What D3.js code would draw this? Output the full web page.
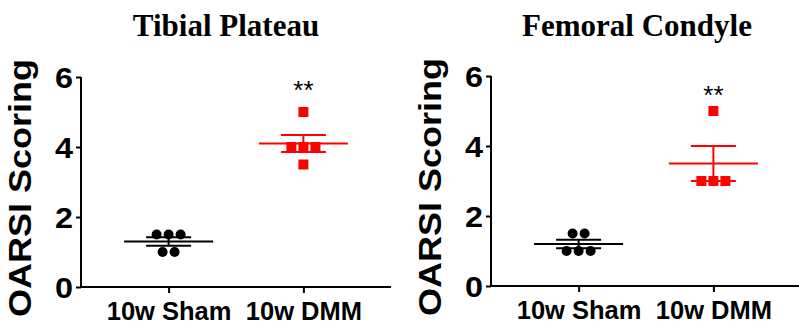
<!DOCTYPE html>
<html>
<head>
<meta charset="utf-8">
<script src="https://cdn.jsdelivr.net/npm/d3@7"></script>
<style>
  body { margin: 0; background: #fff; }
  svg { display: block; }
</style>
</head>
<body>
<div id="chart"></div>
<script>
(function () {

    // Veriler
    const categories = ["10w Sham", "10w DMM"];
    const yTicks = [0, 2, 4, 6];

    const tibialSham = [1.5, 1.5, 1.5, 1, 1];
    const tibialDMM = [5, 4, 4, 4, 3.5];
    const femoralSham = [1.5, 1.5, 1, 1, 1];
    const femoralDMM = [5, 3, 3, 3];

    const panelTitles = ["Tibial Plateau", "Femoral Condyle"];
    const sigLabels = ["**", "**"];

    const W = 799, H = 328;

    const svg = d3.select('#chart')
        .append('svg')
        .attr('width', W)
        .attr('height', H);

    // Panel çizen fonksiyon
    function drawPanel(opts) {
        const g = svg.append("g");

        const y = d3.scaleLinear().domain([0, 6]).range([opts.y0, opts.y0 - 210]);
        const x = d3.scalePoint().domain(categories)
            .range([opts.x0, opts.x0 + 310]).padding(0.65);

        // Başlık
        g.append("text")
            .attr("x", opts.titleX)
            .attr("y", 36)
            .attr("text-anchor", "middle")
            .attr("font-family", "'Liberation Serif', 'Times New Roman', serif")
            .attr("font-weight", "bold")
            .attr("font-size", 31)
            .text(opts.title);

        // Y ekseni
        const yAxis = g.append("g")
            .attr("transform", `translate(${opts.x0},0)`)
            .call(d3.axisLeft(y).tickValues(yTicks).tickSize(5).tickPadding(3).tickFormat(d3.format("d")));
        yAxis.select(".domain").attr("stroke", "#000").attr("stroke-width", 2)
            .attr("d", `M0,${y(6)}V${y(0)}`);
        yAxis.selectAll(".tick line").attr("stroke-width", 2);
        yAxis.selectAll(".tick text")
            .attr("font-family", "'Liberation Sans', Arial, sans-serif")
            .attr("font-weight", "bold")
            .attr("font-size", 30)
            .attr("textLength", 18)
            .attr("lengthAdjust", "spacingAndGlyphs")
            .attr("fill", "#000")
            .attr("dy", "0.36em");

        // X ekseni
        const xAxis = g.append("g")
            .attr("transform", `translate(0,${opts.y0})`)
            .call(d3.axisBottom(x).tickSize(6).tickPadding(9));
        xAxis.select(".domain").attr("stroke", "#000").attr("stroke-width", 2)
            .attr("d", `M${opts.x0},0H${opts.x0 + 310}`);
        xAxis.selectAll(".tick line").attr("stroke-width", 2);
        xAxis.selectAll(".tick text")
            .attr("font-family", "'Liberation Sans', Arial, sans-serif")
            .attr("font-weight", "bold")
            .attr("font-size", 25.5)
            .attr("fill", "#000");

        // Y ekseni etiketi
        g.append("text")
            .attr("transform", `translate(${opts.x0 - 50},${(y(0) + y(6)) / 2 + 6}) rotate(-90)`)
            .attr("text-anchor", "middle")
            .attr("font-family", "'Liberation Sans', Arial, sans-serif")
            .attr("font-weight", "bold")
            .attr("font-size", 32)
            .attr("textLength", 258)
            .attr("lengthAdjust", "spacingAndGlyphs")
            .text("OARSI Scoring");

        // Gruplar
        opts.groups.forEach((vals, i) => {
            const cx = x(categories[i]);
            const color = i === 0 ? "#000" : "#ff0000";

            // aynı değerli noktaları yana yay
            const counts = d3.rollup(vals, v => v.length, d => d);
            const seen = new Map();
            const pts = vals.map(v => {
                const k = counts.get(v);
                const j = seen.get(v) || 0;
                seen.set(v, j + 1);
                return { v: v, dx: (j - (k - 1) / 2) * 12 };
            });

            if (i === 0) {
                g.selectAll(null).data(pts).enter().append("circle")
                    .attr("cx", d => cx + d.dx)
                    .attr("cy", d => y(d.v))
                    .attr("r", 5)
                    .attr("fill", color);
            } else {
                g.selectAll(null).data(pts).enter().append("rect")
                    .attr("x", d => cx + d.dx - 5)
                    .attr("y", d => y(d.v) - 5)
                    .attr("width", 10)
                    .attr("height", 10)
                    .attr("fill", color);
            }

            const mean = d3.mean(vals);
            const sem = d3.deviation(vals) / Math.sqrt(vals.length);

            // ortalama ve SEM çizgileri
            g.append("line")
                .attr("x1", cx - 44.5).attr("x2", cx + 44.5)
                .attr("y1", y(mean)).attr("y2", y(mean))
                .attr("stroke", color).attr("stroke-width", 2);
            g.append("line")
                .attr("x1", cx).attr("x2", cx)
                .attr("y1", y(mean + sem)).attr("y2", y(mean - sem))
                .attr("stroke", color).attr("stroke-width", 2);
            [mean + sem, mean - sem].forEach(v => {
                g.append("line")
                    .attr("x1", cx - 22.5).attr("x2", cx + 22.5)
                    .attr("y1", y(v)).attr("y2", y(v))
                    .attr("stroke", color).attr("stroke-width", 2);
            });
        });

        // anlamlılık yıldızları
        g.append("text")
            .attr("x", x(categories[1]))
            .attr("y", opts.sigY)
            .attr("text-anchor", "middle")
            .attr("font-family", "'Liberation Sans', Arial, sans-serif")
            .attr("font-size", 26)
            .text(opts.sig);
    }

    drawPanel({ x0: 81, y0: 287, titleX: 226, title: panelTitles[0],
        groups: [tibialSham, tibialDMM], sig: sigLabels[0], sigY: 99 });
    drawPanel({ x0: 491, y0: 286, titleX: 637, title: panelTitles[1],
        groups: [femoralSham, femoralDMM], sig: sigLabels[1], sigY: 104 });
})();
</script>
</body>
</html>
